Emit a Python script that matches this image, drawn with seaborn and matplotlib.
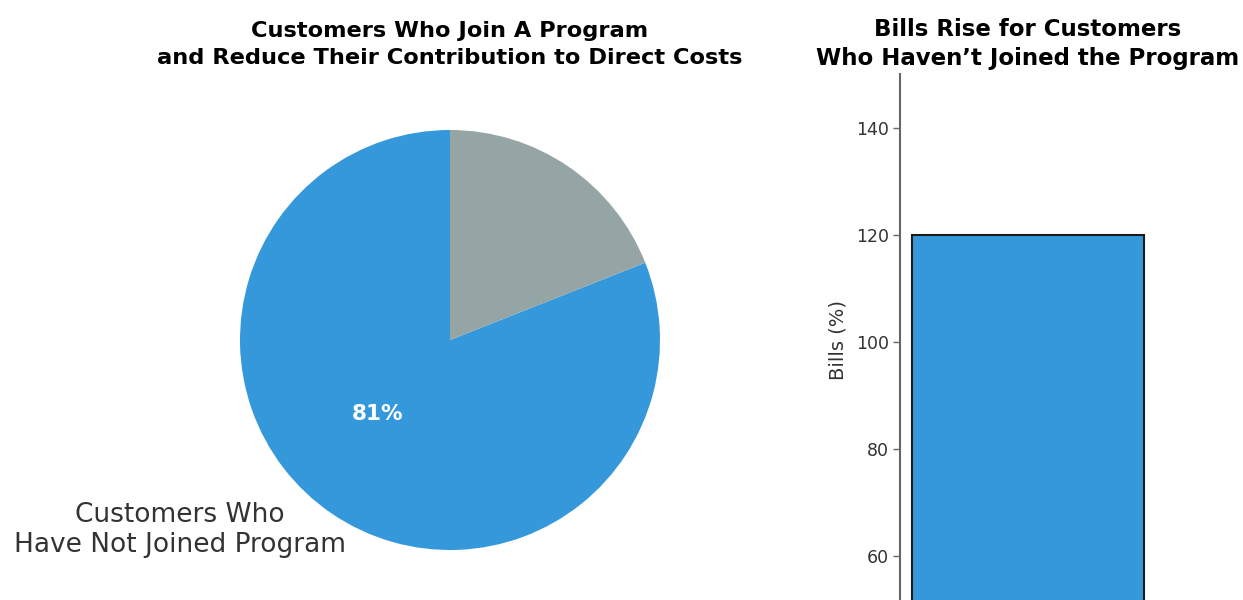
import matplotlib
matplotlib.use("Agg")
import matplotlib.pyplot as plt
import seaborn as sns
import pandas as pd

# ---- data ----
pie_labels = ["Customers Who\nHave Not Joined Program", ""]
pie_values = [81, 19]
pie_colors = ["#3498db", "#95a5a6"]

bar_categories = ["Not Joined"]
bar_values = [120]
bar_yticks = [60, 80, 100, 120, 140]

pie_title = "Customers Who Join A Program\nand Reduce Their Contribution to Direct Costs"
bar_title = "Bills Rise for Customers\nWho Haven\u2019t Joined the Program"

sns.set_theme(style="white")
plt.rcParams["font.family"] = ["DejaVu Sans"]

W, H = 1243, 600
fig = plt.figure(figsize=(W / 100, H / 100), dpi=100)

# ---- pie ----
cx, cy, r = 450, 340, 210
half = 1.25 * r
ax1 = fig.add_axes([(cx - half) / W, (H - (cy + half)) / H, 2 * half / W, 2 * half / H])

def pct_fmt(p):
    return f"{p:.0f}%" if p > 50 else ""

wedges, texts, autotexts = ax1.pie(
    pie_values, labels=pie_labels, colors=pie_colors, startangle=90,
    autopct=pct_fmt, pctdistance=0.49, labeldistance=1.1,
    wedgeprops=dict(linewidth=0),
    textprops=dict(fontsize=19, color="#333333"),
)
ax1.set_xlim(-1.25, 1.25)
ax1.set_ylim(-1.25, 1.25)
ax1.set_aspect("equal")
texts[0].set_position((-1.286, -0.905))
texts[0].set_ha("center")
texts[0].set_multialignment("center")
texts[0].set_va("center")
texts[0].set_linespacing(1.22)
autotexts[0].set_position((-0.345, -0.35))
autotexts[0].set_color("white")
autotexts[0].set_fontweight("bold")
autotexts[0].set_fontsize(15.5)
ax1.set_title(pie_title, fontsize=16.2, fontweight="bold", color="black", pad=10, linespacing=1.42)

# ---- bar ----
px_per_unit = 107 / 20
y_top_px = 128 - 10 * px_per_unit
y_bot_px = 128 + 140 * px_per_unit
ax_left, ax_right = 900, 1156
ax2 = fig.add_axes([ax_left / W, (H - y_bot_px) / H, (ax_right - ax_left) / W, (y_bot_px - y_top_px) / H])
df = pd.DataFrame({"cat": bar_categories, "val": bar_values})
sns.barplot(data=df, x="cat", y="val", color="#3498db", saturation=1,
            edgecolor="#1a1a1a", linewidth=1.5, width=0.8, ax=ax2)
ax2.set_xlim(-0.44, 0.44)
ax2.set_ylim(0, 150)
ax2.set_yticks(bar_yticks)
ax2.set_xticks([])
ax2.set_xlabel("")
ax2.set_ylabel("Bills (%)", fontsize=14, color="#333333")
ax2.yaxis.set_label_coords(-0.205, (y_bot_px - 340) / (y_bot_px - y_top_px))
for s in ["top", "right", "bottom"]:
    ax2.spines[s].set_visible(False)
ax2.spines["left"].set_color("#666666")
ax2.spines["left"].set_linewidth(1.5)
ax2.tick_params(axis="y", left=True, length=5, width=1, color="#666666",
                labelsize=12.5, labelcolor="#333333", pad=3)
ax2.set_title(bar_title, fontsize=16.5, fontweight="bold", color="black", pad=7, linespacing=1.32)

fig.savefig("out.png", dpi=100)
